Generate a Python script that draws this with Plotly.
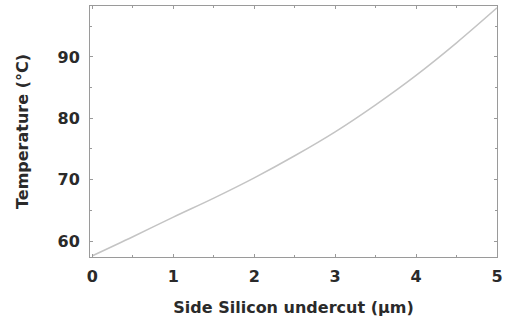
import plotly.graph_objects as go

undercut_um = [0, 0.5, 1, 1.5, 2, 2.5, 3, 3.5, 4, 4.5, 5]
temperature_c = [57.6, 60.7, 63.9, 67.0, 70.3, 73.9, 77.8, 82.2, 87.0, 92.3, 98.0]

x_ticks = [0, 1, 2, 3, 4, 5]
y_ticks = [60, 70, 80, 90]

fig = go.Figure()
fig.add_trace(go.Scatter(x=undercut_um, y=temperature_c, mode="lines",
                         line=dict(color="#c4c4c4", width=1.5, shape="spline"),
                         showlegend=False))

tick_font = dict(family="DejaVu Sans", size=16, color="#2a2a2a", weight="bold")
title_font = dict(family="DejaVu Sans", size=16, color="#2a2a2a", weight="bold")
axis_common = dict(showline=True, linecolor="#9a9a9a", linewidth=1, mirror="ticks",
                   ticks="inside", ticklen=3, tickcolor="#9a9a9a", showgrid=False,
                   zeroline=False, tickfont=tick_font)

fig.update_xaxes(range=[-0.03, 5.0], tickvals=x_ticks,
                 minor=dict(dtick=0.5, ticks="inside", ticklen=2, tickcolor="#9a9a9a"),
                 title=dict(text="Side Silicon undercut (µm)", font=title_font, standoff=16),
                 ticklabelstandoff=5,
                 **axis_common)
fig.update_yaxes(range=[57.4, 98.3], tickvals=y_ticks,
                 minor=dict(dtick=5, ticks="inside", ticklen=2, tickcolor="#9a9a9a"),
                 title=dict(text="Temperature (°C)", font=title_font, standoff=24),
                 ticklabelstandoff=6,
                 **axis_common)
fig.update_layout(width=508, height=325, margin=dict(l=90, r=6, t=5, b=68),
                  plot_bgcolor="white", paper_bgcolor="white")
fig.write_html("out.html")
